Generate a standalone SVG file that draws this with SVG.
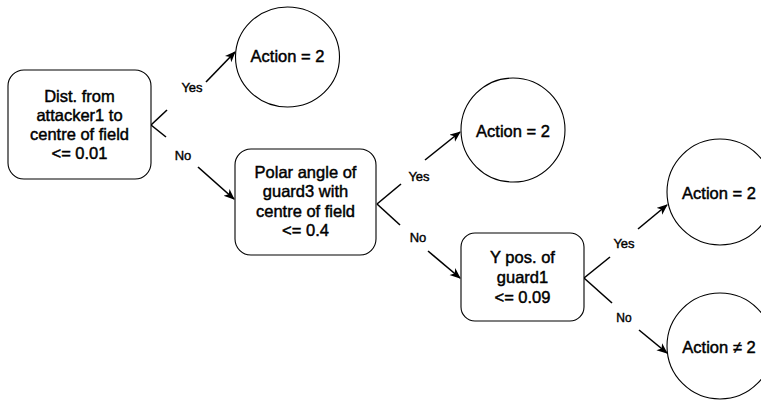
<svg xmlns="http://www.w3.org/2000/svg" width="761" height="402" viewBox="0 0 761 402">
<defs>
<style>
.box{fill:#fff;stroke:#000;stroke-width:1.1}
.t{font-family:"Liberation Sans",Arial,sans-serif;font-size:16.5px;fill:#000;stroke:#000;stroke-width:0.45;text-anchor:middle}
.lbl{font-family:"Liberation Sans",Arial,sans-serif;font-size:13px;fill:#000;stroke:#000;stroke-width:0.4;text-anchor:middle}
.e{stroke:#000;stroke-width:1.6;fill:none}
.a{marker-end:url(#arr)}
</style>
<marker id="arr" markerUnits="userSpaceOnUse" markerWidth="12" markerHeight="10" refX="10" refY="4.5" orient="auto">
<path d="M0,0 L11,4.5 L0,9 L3,4.5 z" fill="#000"/>
</marker>
</defs>
<rect width="761" height="402" fill="#fff"/>
<g id="connectors">
<line class="e" x1="151" y1="125" x2="167" y2="110"/>
<line class="e a" x1="206" y1="82" x2="235" y2="52"/>
<text class="lbl" x="192" y="92">Yes</text>
<line class="e" x1="151" y1="125" x2="166" y2="137"/>
<line class="e a" x1="198" y1="167" x2="234" y2="199"/>
<text class="lbl" x="183" y="159.5">No</text>
<line class="e" x1="377" y1="204" x2="401" y2="184"/>
<line class="e a" x1="425" y1="160" x2="460" y2="132"/>
<text class="lbl" x="419" y="180.5">Yes</text>
<line class="e" x1="377" y1="204" x2="400" y2="225"/>
<line class="e a" x1="428" y1="251" x2="460" y2="278"/>
<text class="lbl" x="418" y="242">No</text>
<line class="e" x1="584" y1="278" x2="610" y2="257"/>
<line class="e a" x1="638" y1="229" x2="667" y2="205"/>
<text class="lbl" x="624" y="248">Yes</text>
<line class="e" x1="584" y1="278" x2="612" y2="303"/>
<line class="e a" x1="639" y1="330" x2="667" y2="353"/>
<text class="lbl" x="624" y="321.5" style="font-size:12px">No</text>
</g>
<g id="node1">
<rect class="box" x="8" y="70" width="143" height="109" rx="16"/>
<text class="t" x="79.5" y="101.5">Dist. from</text>
<text class="t" x="79.5" y="120.5">attacker1 to</text>
<text class="t" x="79.5" y="139.5">centre of field</text>
<text class="t" x="79.5" y="158.5">&lt;= 0.01</text>
</g>
<g id="leaf1">
<ellipse class="box" cx="287.5" cy="57" rx="52" ry="50"/>
<text class="t" x="287.5" y="61.5">Action = 2</text>
</g>
<g id="node2">
<rect class="box" x="235" y="149" width="141" height="106" rx="16"/>
<text class="t" x="305.5" y="177.5">Polar angle of</text>
<text class="t" x="305.5" y="197">guard3 with</text>
<text class="t" x="305.5" y="216.5">centre of field</text>
<text class="t" x="305.5" y="236">&lt;= 0.4</text>
</g>
<g id="leaf2">
<circle class="box" cx="513" cy="130" r="52"/>
<text class="t" x="513" y="136.5">Action = 2</text>
</g>
<g id="node3">
<rect class="box" x="461" y="233" width="123" height="88" rx="14"/>
<text class="t" x="522.5" y="263">Y pos. of</text>
<text class="t" x="522.5" y="283">guard1</text>
<text class="t" x="522.5" y="302.5">&lt;= 0.09</text>
</g>
<g id="leaf3">
<circle class="box" cx="720" cy="192" r="53"/>
<text class="t" x="719" y="199">Action = 2</text>
</g>
<g id="leaf4">
<circle class="box" cx="720" cy="346" r="53"/>
<text class="t" x="719" y="352.5">Action ≠ 2</text>
</g>
</svg>
